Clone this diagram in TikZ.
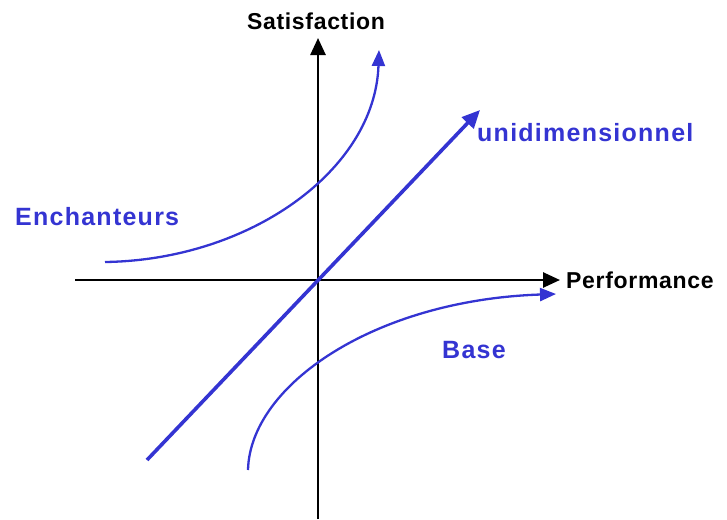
\documentclass[tikz,border=0pt]{standalone}
\usepackage{fontspec}
\setmainfont{Liberation Sans}
\newfontfamily\blabfont[LetterSpace=5]{Liberation Sans}
\newfontfamily\klabfont[LetterSpace=3]{Liberation Sans}
\usetikzlibrary{arrows.meta}
\definecolor{kblue}{RGB}{52,52,210}
\begin{document}
\begin{tikzpicture}[x=1pt,y=-1pt,
  axis/.style={draw=black,line width=2.6pt,-{Triangle[length=17pt,width=15pt]}},
  bcurve/.style={draw=kblue,line width=2.3pt,-{Triangle[length=16pt,width=13pt]}},
  bline/.style={draw=kblue,line width=3.6pt,-{Triangle[length=18pt,width=16pt]}},
  blab/.style={text=kblue,font=\blabfont\bfseries\fontsize{25}{28}\selectfont,inner sep=0pt},
  klab/.style={text=black,font=\klabfont\bfseries\fontsize{23}{26}\selectfont,inner sep=0pt}]
\useasboundingbox (0,0) rectangle (727,519);
\coordinate (ybot) at (318,519);
\coordinate (ytop) at (318,38);
\coordinate (xl) at (75,280);
\coordinate (xr) at (560,280);
\coordinate (ds) at (147,460);
\coordinate (de) at (480,110);
\coordinate (es) at (105,262);
\coordinate (ee) at (379,50);
\coordinate (bs) at (248,470);
\coordinate (be) at (556,294);
\draw[axis] (ybot) -- (ytop);
\draw[axis] (xl) -- (xr);
\draw[bline] (ds) -- (de);
\draw[bcurve] (es) .. controls (250,260) and (375,170) .. (ee);
\draw[bcurve] (bs) .. controls (250,385) and (375,300) .. (be);
\node[klab] (sat) at (316,21) {Satisfaction};
\node[klab,anchor=west] (perf) at (566,280) {Performance};
\node[blab,anchor=west] (uni) at (477,133) {unidimensionnel};
\node[blab,anchor=west] (enc) at (15,217) {Enchanteurs};
\node[blab,anchor=west] (base) at (442,350) {Base};
\end{tikzpicture}
\end{document}
